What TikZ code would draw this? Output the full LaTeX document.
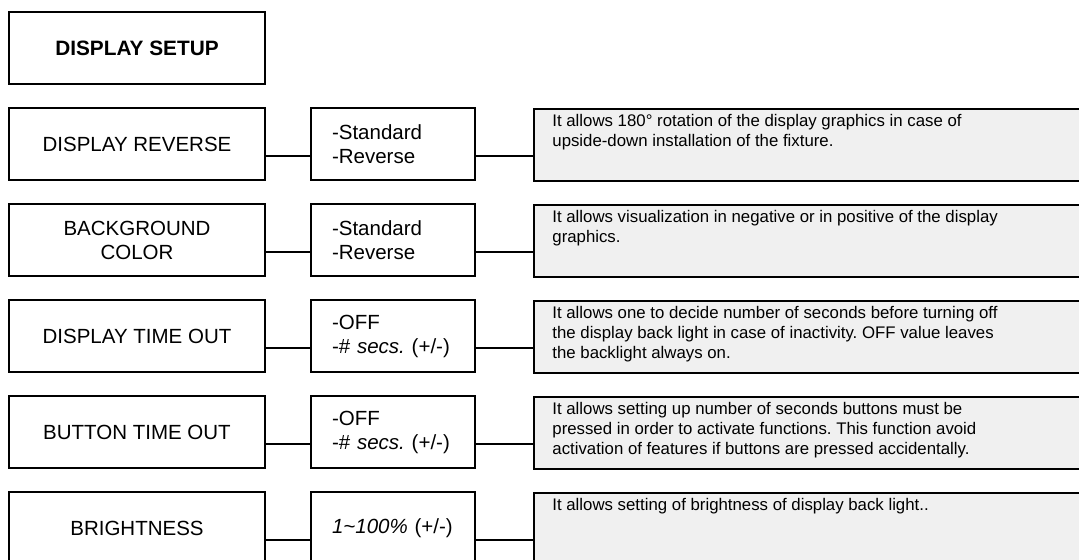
\documentclass[tikz,border=0pt]{standalone}
\usepackage{fontspec}
\setmainfont{Liberation Sans}
\frenchspacing
\definecolor{descgray}{rgb}{0.94,0.94,0.94}
\tikzset{
  menu/.style={draw, line width=0.9pt, minimum width=128pt, minimum height=36pt, inner sep=0pt, align=center, font=\fontsize{10.25}{12}\selectfont},
  opt/.style={draw, line width=0.9pt, minimum height=36pt, text width=61pt, inner xsep=10.5pt, inner ysep=0pt, align=left, font=\fontsize{10.25}{12}\selectfont},
  desc/.style={draw, line width=0.9pt, fill=descgray, minimum width=300pt, minimum height=36pt, inner sep=0pt, anchor=north west},
  desctext/.style={inner sep=0pt, anchor=north west, align=left, font=\fontsize{8.4}{10}\selectfont},
  link/.style={line width=0.9pt}
}
\begin{document}
\begin{tikzpicture}[x=0.5pt,y=-0.5pt]
%
\clip (0,0) rectangle (1079,559);
%
\node[menu, font=\fontsize{10.4}{12}\selectfont\bfseries] (title) at (137,48) {DISPLAY SETUP};
%
\node[menu] (m1) at (137,144) {DISPLAY REVERSE};
\node[menu] (m2) at (137,240) {BACKGROUND\\COLOR};
\node[menu] (m3) at (137,336) {DISPLAY TIME OUT};
\node[menu] (m4) at (137,432) {BUTTON TIME OUT};
\node[menu] (m5) at (137,528) {BRIGHTNESS};
%
\node[opt] (o1) at (393,144) {-Standard\\-Reverse};
\node[opt] (o2) at (393,240) {-Standard\\-Reverse};
\node[opt] (o3) at (393,336) {-OFF\\-\# \textit{secs.} (+/-)};
\node[opt] (o4) at (393,432) {-OFF\\-\# \textit{secs.} (+/-)};
\node[opt] (o5) at (393,528) {\textit{1\textasciitilde100\%} (+/-)};
%
\node[desc] (d1) at (533,108) {};
\node[desc] (d2) at (533,204) {};
\node[desc] (d3) at (533,300) {};
\node[desc] (d4) at (533,396) {};
\node[desc] (d5) at (533,492) {};
%
\node[desctext] (t1) at ([xshift=9.5pt,yshift=-3pt]d1.north west) {It allows 180° rotation of the display graphics in case of\\upside-down installation of the fixture.};
\node[desctext] (t2) at ([xshift=9.5pt,yshift=-3pt]d2.north west) {It allows visualization in negative or in positive of the display\\graphics.};
\node[desctext] (t3) at ([xshift=9.5pt,yshift=-3pt]d3.north west) {It allows one to decide number of seconds before turning off\\the display back light in case of inactivity. OFF value leaves\\the backlight always on.};
\node[desctext] (t4) at ([xshift=9.5pt,yshift=-3pt]d4.north west) {It allows setting up number of seconds buttons must be\\pressed in order to activate functions. This function avoid\\activation of features if buttons are pressed accidentally.};
\node[desctext] (t5) at ([xshift=9.5pt,yshift=-3pt]d5.north west) {It allows setting of brightness of display back light..};
%
\draw[link] ([yshift=-6pt]m1.east) -- ([yshift=-6pt]o1.west);
\draw[link] ([yshift=-6pt]m2.east) -- ([yshift=-6pt]o2.west);
\draw[link] ([yshift=-6pt]m3.east) -- ([yshift=-6pt]o3.west);
\draw[link] ([yshift=-6pt]m4.east) -- ([yshift=-6pt]o4.west);
\draw[link] ([yshift=-6pt]m5.east) -- ([yshift=-6pt]o5.west);
%
\draw[link] ([yshift=-6pt]o1.east) -- ([yshift=-6pt]o1.east -| d1.west);
\draw[link] ([yshift=-6pt]o2.east) -- ([yshift=-6pt]o2.east -| d2.west);
\draw[link] ([yshift=-6pt]o3.east) -- ([yshift=-6pt]o3.east -| d3.west);
\draw[link] ([yshift=-6pt]o4.east) -- ([yshift=-6pt]o4.east -| d4.west);
\draw[link] ([yshift=-6pt]o5.east) -- ([yshift=-6pt]o5.east -| d5.west);
%
\end{tikzpicture}
\end{document}
